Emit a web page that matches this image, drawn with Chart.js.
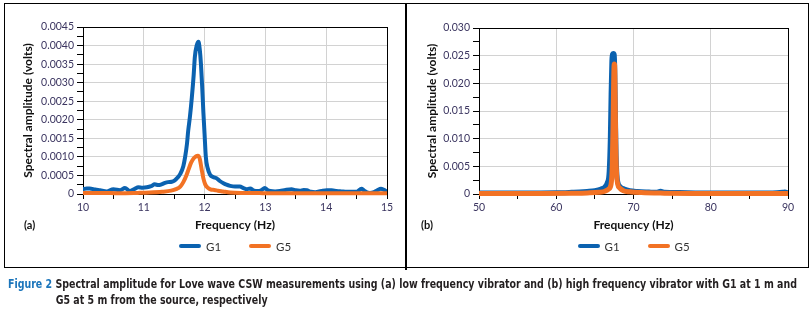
<!DOCTYPE html>
<html>
<head>
<meta charset="utf-8">
<script src="https://cdn.jsdelivr.net/npm/chart.js@4/dist/chart.umd.min.js"></script>
<style>
html,body{margin:0;padding:0;background:#fff;width:810px;height:312px;overflow:hidden;}
canvas{position:absolute;top:0;}
#ca{left:0;}
#cb{left:405px;}
#frame{position:absolute;left:4px;top:3px;width:805px;height:265px;border:1.5px solid #000;box-sizing:border-box;}
#divider{position:absolute;left:405px;top:3px;width:1.5px;height:267px;background:#000;}
.plab{position:absolute;top:218px;font:bold 11px Lato,'Open Sans',sans-serif;color:#111;}
.legend{position:absolute;top:237px;height:14px;white-space:nowrap;font:11.5px Lato,'Open Sans',sans-serif;color:#333;}
.legend .item{display:inline-block;margin-right:28px;vertical-align:middle;}
.legend .item:last-child{margin-right:0;}
.legend .sw{display:inline-block;width:22px;height:4px;border-radius:2px;vertical-align:middle;margin-right:5px;}
.legend .tx{vertical-align:middle;}
#cap{position:absolute;left:8px;top:276px;transform-origin:0 0;font-family:'Liberation Sans Narrow','DejaVu Sans Condensed','Roboto',sans-serif;font-weight:bold;font-size:13px;line-height:16px;color:#231f20;white-space:nowrap;}
#cap .fig{color:#1b75bb;}
#cap .l{display:block;}
#l1{display:inline-block;}
</style>
</head>
<body>
<canvas id="ca" width="405" height="262"></canvas>
<canvas id="cb" width="405" height="262"></canvas>
<div id="frame"></div>
<div id="divider"></div>
<div class="plab" style="left:24px;">(a)</div>
<div class="plab" style="left:421px;">(b)</div>
<div class="legend" id="lega"></div>
<div class="legend" id="legb"></div>
<div id="cap">
  <div id="l1"><span class="fig" id="fig">Figure 2&nbsp;</span>Spectral amplitude for Love wave CSW measurements using (a) low frequency vibrator and (b) high frequency vibrator with G1 at 1 m and</div>
  <div class="l" id="l2">G5 at 5 m from the source, respectively</div>
</div>
<script>
// ---------- DATA ----------
const seriesNames = ['G1', 'G5'];

// (a) low frequency vibrator
const a_g1_hz  = [10.0,10.06,10.11,10.2,10.28,10.39,10.5,10.61,10.69,10.77,10.85,10.91,10.98,11.05,11.12,11.18,11.24,11.29,11.35,11.4,11.46,11.51,11.56,11.6,11.65,11.68,11.71,11.73,11.76,11.79,11.82,11.84,11.87,11.9,11.92,11.94,11.96,11.98,12.0,12.02,12.05,12.09,12.14,12.2,12.25,12.31,12.36,12.42,12.5,12.58,12.64,12.69,12.75,12.8,12.88,12.93,12.99,13.04,13.08,13.16,13.24,13.33,13.43,13.5,13.57,13.63,13.68,13.75,13.82,13.92,14.01,14.09,14.17,14.25,14.34,14.42,14.5,14.58,14.62,14.66,14.72,14.77,14.84,14.9,14.94,15.0];
const a_g1_amp = [0.00013,0.00015,0.00015,0.00012,0.0001,0.00007,0.00013,0.0001,0.00016,0.00008,0.00014,0.00018,0.00017,0.00018,0.00021,0.00026,0.00024,0.00026,0.0003,0.00032,0.00033,0.00037,0.00045,0.00054,0.00075,0.001,0.00135,0.0017,0.0021,0.0026,0.0032,0.0037,0.004,0.0041,0.0039,0.0035,0.0029,0.0022,0.0016,0.001,0.0007,0.00052,0.00046,0.00042,0.00035,0.00029,0.00025,0.00022,0.0002,0.0002,0.00016,0.00013,0.00015,0.0001,0.00008,0.0001,0.00016,0.0001,0.00008,0.00007,0.00008,0.00011,0.00013,0.0001,0.00009,0.00011,0.0001,0.00006,0.00005,0.00008,0.0001,0.0001,0.00008,0.00007,0.00006,0.00006,0.00006,0.00014,0.0001,0.00005,0.00003,0.00004,0.0001,0.00014,0.00012,0.00006];
const a_g5_hz  = [10.0,10.3,10.6,10.9,11.1,11.3,11.45,11.53,11.6,11.65,11.7,11.74,11.78,11.82,11.86,11.89,11.92,11.95,11.98,12.01,12.05,12.1,12.16,12.22,12.3,12.42,12.6,12.8,13.0,13.5,14.0,14.5,15.0];
const a_g5_amp = [0.00003,0.00003,0.00002,0.00003,0.00004,0.00006,0.00009,0.00013,0.0002,0.00032,0.0005,0.00068,0.00085,0.00096,0.00102,0.00103,0.00095,0.00068,0.00042,0.00026,0.00017,0.00012,0.00011,0.00009,0.00007,0.00004,0.00003,0.00003,0.00002,0.00002,0.00002,0.00002,0.00002];
const a_xLabels = [10, 11, 12, 13, 14, 15];
const a_yLabels = [0, 0.0005, 0.0010, 0.0015, 0.0020, 0.0025, 0.0030, 0.0035, 0.0040, 0.0045];

// (b) high frequency vibrator
const b_g1_hz  = [50,52,54,56,58,60,62,63,64,65,65.8,66.3,66.6,66.85,67.0,67.1,67.2,67.3,67.4,67.5,67.58,67.66,67.75,67.85,68.0,68.3,68.8,69.5,70.5,72,73,73.5,74,76,78,80,82,84,86,88,89.3,89.6,90];
const b_g1_amp = [0.0002,0.0002,0.00018,0.0002,0.0002,0.00022,0.0003,0.00035,0.00045,0.0006,0.0009,0.0013,0.002,0.004,0.01,0.018,0.024,0.0253,0.0254,0.0252,0.022,0.014,0.007,0.0035,0.002,0.0013,0.0009,0.0006,0.00045,0.00035,0.0003,0.0005,0.0003,0.00025,0.0002,0.0002,0.0002,0.00018,0.0002,0.0002,0.0003,0.00035,0.0002];
const b_g5_hz  = [50,54,58,62,64,65.5,66.3,66.8,67.1,67.25,67.35,67.43,67.5,67.56,67.62,67.7,67.8,67.95,68.2,68.7,69.5,71,74,78,82,86,90];
const b_g5_amp = [0.00008,0.00008,0.0001,0.00015,0.0002,0.0003,0.0005,0.0009,0.0018,0.005,0.012,0.02,0.0235,0.0233,0.018,0.009,0.004,0.0018,0.0011,0.0006,0.0004,0.00025,0.00015,0.0001,0.0001,0.0001,0.0001];
const b_xLabels = [50, 60, 70, 80, 90];
const b_yLabels = [0, 0.005, 0.010, 0.015, 0.020, 0.025, 0.030];

// ---------- STYLE ----------
const BLUE = '#0b62b0', ORANGE = '#f27224';
const TICK_COLOR = '#3b3560', GRID = '#d2d2d2';
const TICK_FONT = {family: "Lato, 'Open Sans', sans-serif", size: 10.5};
const TITLE_FONT = {family: "Lato, 'Open Sans', sans-serif", size: 12, weight: 'bold'};

function pts(xs, ys) { return xs.map((x, i) => ({x: x, y: ys[i]})); }
function isLabel(v, labels) { return labels.some(l => Math.abs(l - v) < 1e-9 * Math.max(1, Math.abs(l)) + 1e-12); }

const boxPlugin = {
  id: 'box',
  beforeDatasetsDraw(chart) {
    const {ctx, chartArea: a} = chart;
    ctx.save();
    ctx.strokeStyle = '#000';
    ctx.lineWidth = 1;
    ctx.strokeRect(Math.round(a.left) + 0.5, Math.round(a.top) + 0.5, Math.round(a.right - a.left), Math.round(a.bottom - a.top));
    ctx.restore();
  }
};

function makePanel(id, o) {
  const xs = o.xLabels, ys = o.yLabels;
  const xmin = xs[0], xmax = xs[xs.length - 1], ymin = ys[0], ymax = ys[ys.length - 1];
  return new Chart(document.getElementById(id), {
    type: 'line',
    data: {
      datasets: [
        {label: seriesNames[0], data: pts(o.g1x, o.g1y), borderColor: BLUE, backgroundColor: BLUE, borderWidth: o.lw, pointRadius: 0, cubicInterpolationMode: 'monotone', borderCapStyle: 'round', borderJoinStyle: 'round', order: 2, clip: {left: 0, top: 0, right: 0, bottom: 4}},
        {label: seriesNames[1], data: pts(o.g5x, o.g5y), borderColor: ORANGE, backgroundColor: ORANGE, borderWidth: o.lw, pointRadius: 0, cubicInterpolationMode: 'monotone', borderCapStyle: 'round', borderJoinStyle: 'round', order: 1, clip: {left: 0, top: 0, right: 0, bottom: 4}}
      ]
    },
    options: {
      responsive: false,
      animation: false,
      devicePixelRatio: 1,
      layout: {padding: o.pad},
      plugins: {legend: {display: false}, tooltip: {enabled: false}},
      scales: {
        x: {
          type: 'linear', min: xmin, max: xmax,
          afterFit: s => { s.height = 40; },
          border: {display: false},
          grid: {
            color: c => (c.tick && isLabel(c.tick.value, xs) && c.tick.value !== xmin && c.tick.value !== xmax) ? GRID : 'rgba(0,0,0,0)',
            tickColor: '#000', tickLength: 5, lineWidth: 1
          },
          ticks: {
            stepSize: o.xMinor, autoSkip: false, maxRotation: 0, padding: 2,
            color: TICK_COLOR, font: TICK_FONT,
            callback: v => isLabel(v, xs) ? String(Math.round(v)) : ''
          },
          title: {display: true, text: 'Frequency (Hz)', color: '#111', font: TITLE_FONT, padding: {top: 0, bottom: 2}}
        },
        y: {
          type: 'linear', min: ymin, max: ymax,
          afterFit: s => { s.width = o.yWidth; },
          border: {display: false},
          grid: {
            color: c => (c.tick && isLabel(c.tick.value, ys) && c.tick.value !== ymin && c.tick.value !== ymax) ? GRID : 'rgba(0,0,0,0)',
            tickColor: '#000', tickLength: 6, lineWidth: 1
          },
          ticks: {
            stepSize: o.yMinor, autoSkip: false, padding: 3,
            color: TICK_COLOR, font: TICK_FONT,
            callback: v => isLabel(v, ys) ? (Math.abs(v) < 1e-12 ? '0' : v.toFixed(o.yDec)) : ''
          },
          title: {display: true, text: 'Spectral amplitude (volts)', color: '#111', font: TITLE_FONT, padding: {top: 0, bottom: 0}}
        }
      }
    },
    plugins: [boxPlugin]
  });
}

const chartA = makePanel('ca', {
  g1x: a_g1_hz, g1y: a_g1_amp, g5x: a_g5_hz, g5y: a_g5_amp,
  xLabels: a_xLabels, yLabels: a_yLabels, xMinor: 0.5, yMinor: 0.00025, yDec: 4,
  lw: 4, yWidth: 62, pad: {left: 21, top: 27, right: 18, bottom: 28}
});
const chartB = makePanel('cb', {
  g1x: b_g1_hz, g1y: b_g1_amp, g5x: b_g5_hz, g5y: b_g5_amp,
  xLabels: b_xLabels, yLabels: b_yLabels, xMinor: 5, yMinor: 0.0025, yDec: 3,
  lw: 5, yWidth: 54, pad: {left: 20, top: 28, right: 22, bottom: 28}
});

function buildLegend(chart, elId, offsetX) {
  const el = document.getElementById(elId);
  chart.data.datasets.forEach(ds => {
    const it = document.createElement('span');
    it.className = 'item';
    const sw = document.createElement('span');
    sw.className = 'sw';
    sw.style.background = ds.borderColor;
    const tx = document.createElement('span');
    tx.className = 'tx';
    tx.textContent = ds.label;
    it.appendChild(sw); it.appendChild(tx);
    el.appendChild(it);
  });
  const a = chart.chartArea;
  el.style.left = (offsetX + (a.left + a.right) / 2 - el.offsetWidth / 2) + 'px';
}
buildLegend(chartA, 'lega', 0);
buildLegend(chartB, 'legb', 405);

// caption layout
const fig = document.getElementById('fig');
document.getElementById('l2').style.marginLeft = fig.offsetWidth + 'px';
const w1 = document.getElementById('l1').offsetWidth;
document.getElementById('cap').style.transform = 'scaleX(' + (789 / w1) + ')';
</script>
</body>
</html>
